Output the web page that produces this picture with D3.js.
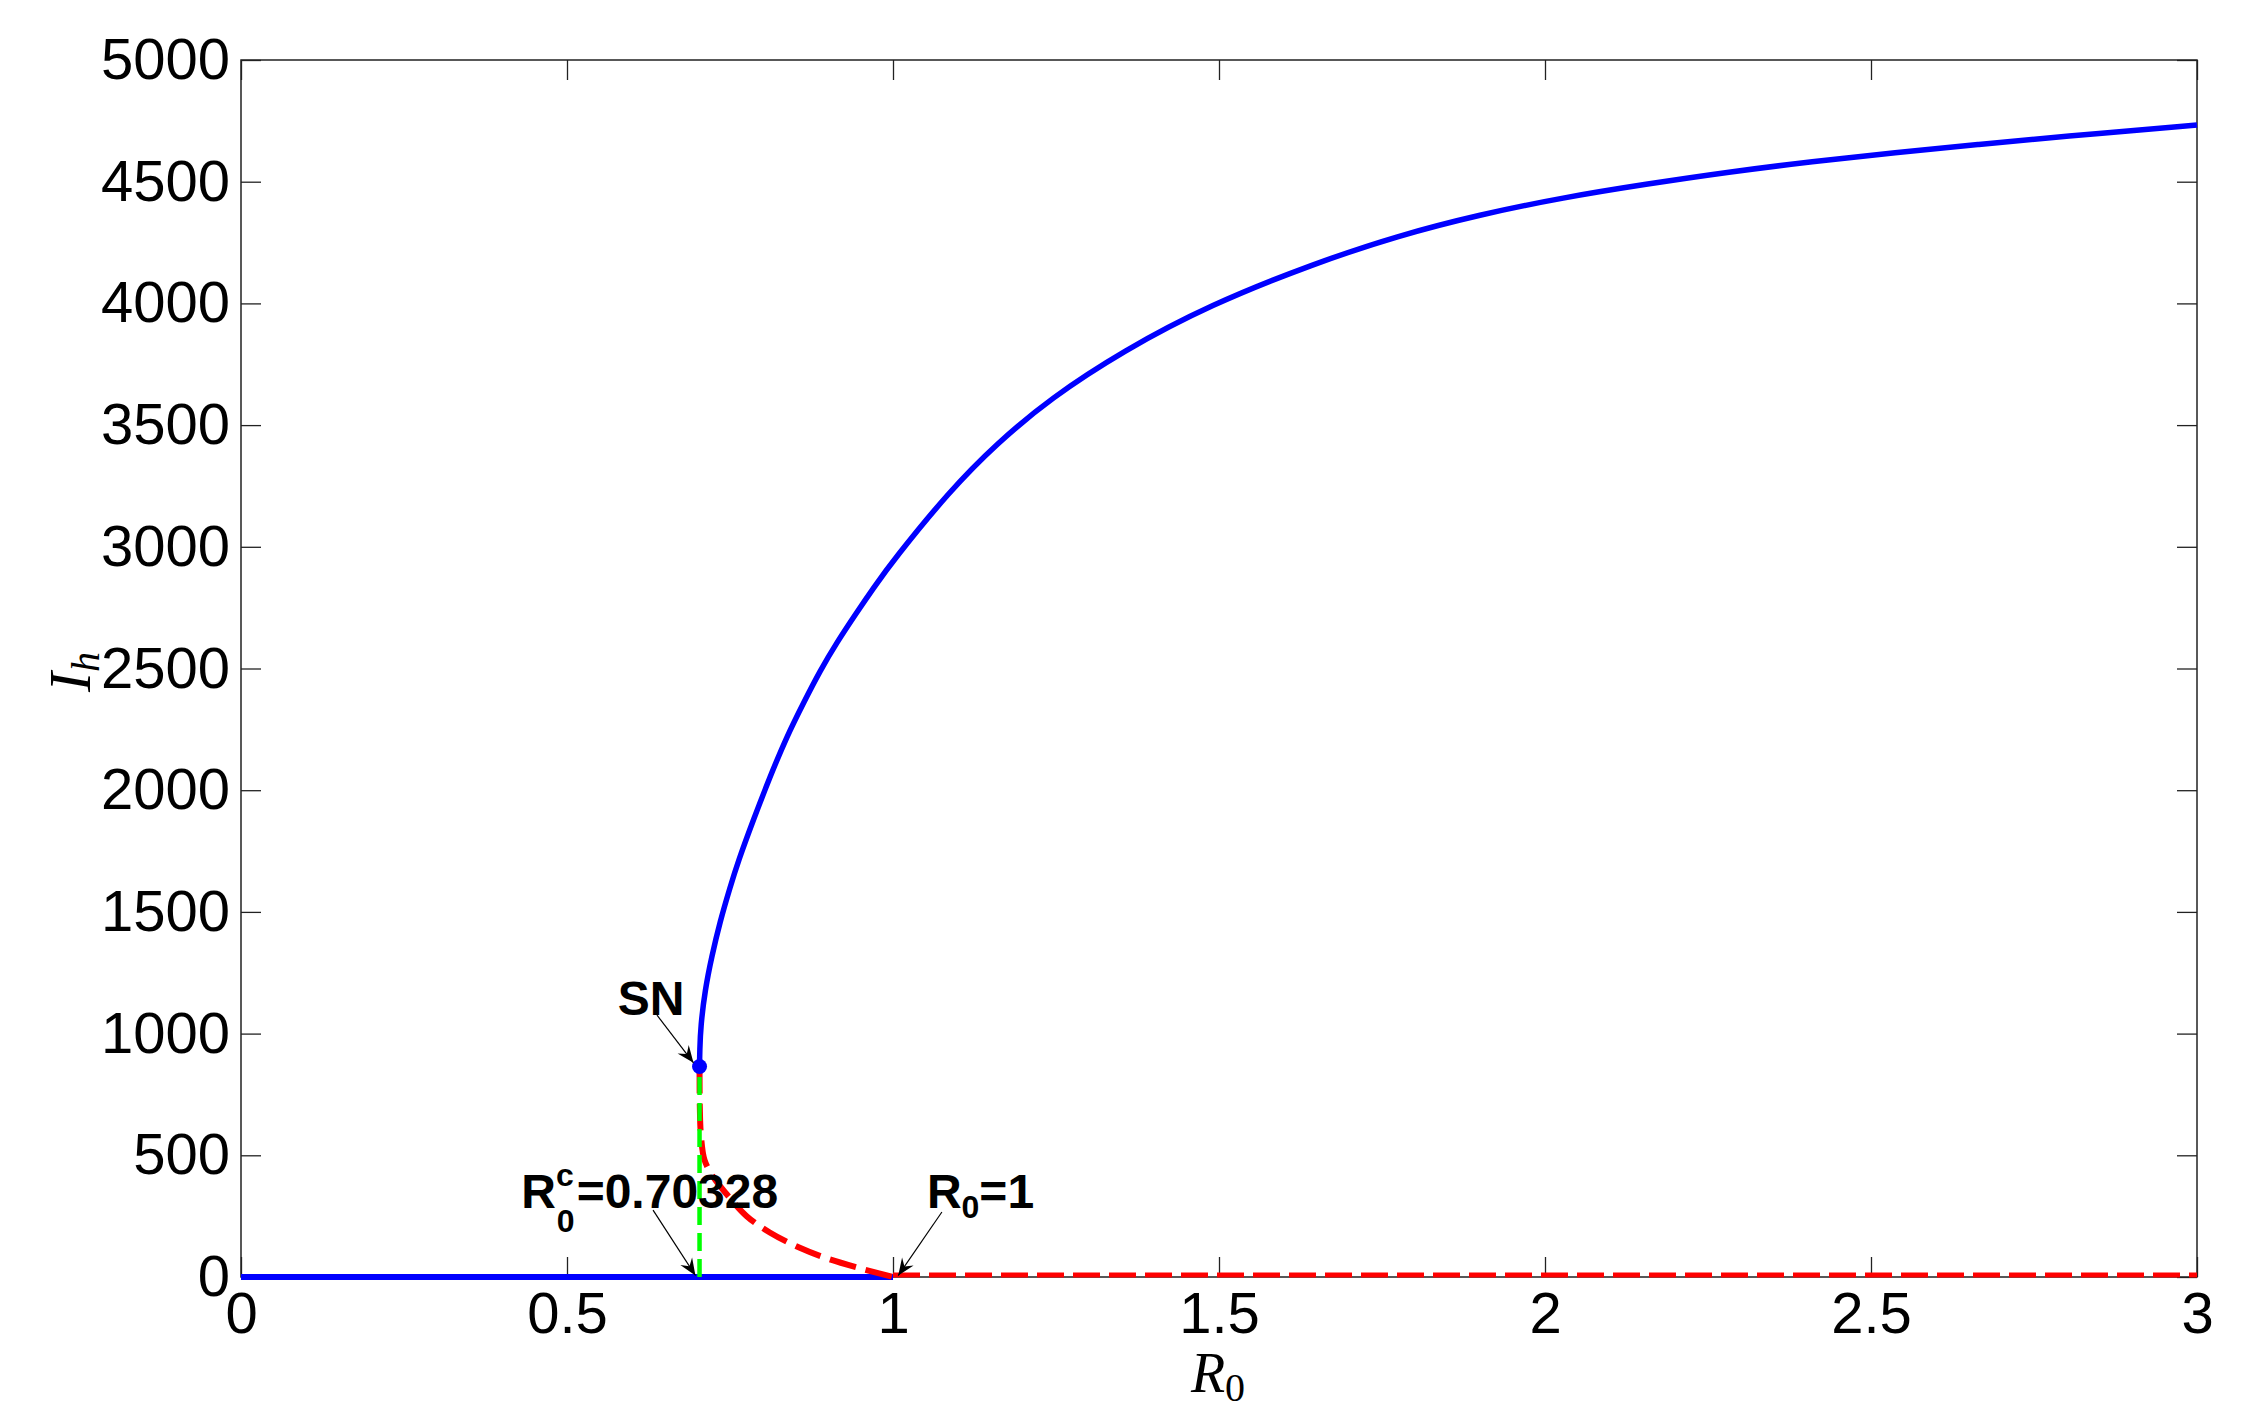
<!DOCTYPE html>
<html>
<head>
<meta charset="utf-8">
<script src="https://d3js.org/d3.v7.min.js"></script>
<style>
  body { margin: 0; background: #fff; }
  text { font-family: "Liberation Sans", Arial, sans-serif; }
</style>
</head>
<body>
<script>
// stable endemic branch (blue, solid) starting at the saddle-node point
const upperR = [0.70328, 0.7036, 0.7050, 0.7117, 0.7219, 0.7347, 0.750, 0.7628, 0.7858, 0.8113, 0.837, 0.8624, 0.888, 0.9136, 0.9443, 0.9698, 1.0005, 1.087, 1.159, 1.241, 1.353, 1.486, 1.647, 1.774, 1.900, 2.028, 2.155, 2.282, 2.410, 2.537, 2.664, 2.790, 3.0];
const upperI = [865, 930, 1030, 1179, 1316, 1460, 1600, 1710, 1878, 2055, 2220, 2357, 2490, 2606, 2730, 2830, 2945, 3230, 3424, 3609, 3805, 3994, 4165, 4278, 4365, 4435, 4490, 4540, 4583, 4620, 4653, 4685, 4733];
// unstable endemic branch (red, dashed) from SN down to R0 = 1
const lowerR = [0.70328, 0.7037, 0.7055, 0.711, 0.7245, 0.745, 0.7756, 0.811, 0.857, 0.898, 0.949, 1.0];
const lowerI = [865, 700, 580, 480, 410, 340, 250, 183, 120, 77, 36, 0];
// disease free equilibrium: stable below 1, unstable above
const dfeStableR = [0, 1];
const dfeUnstableR = [1, 3];
const snPoint = [0.70328, 865];
const xTicks = [0, 0.5, 1, 1.5, 2, 2.5, 3];
const yTicks = [0, 500, 1000, 1500, 2000, 2500, 3000, 3500, 4000, 4500, 5000];

const W = 2266, H = 1426;
const m = {left: 241, top: 60, right: 69, bottom: 149};
const w = W - m.left - m.right, h = H - m.top - m.bottom;

const x = d3.scaleLinear().domain([0, 3]).range([0, w]);
const y = d3.scaleLinear().domain([0, 5000]).range([h, 0]);

const svg = d3.select("body").append("svg")
    .attr("width", W).attr("height", H);

const defs = svg.append("defs");
defs.append("marker")
    .attr("id", "arr")
    .attr("viewBox", "-18 -8 20 16")
    .attr("refX", 0).attr("refY", 0)
    .attr("markerWidth", 20).attr("markerHeight", 16)
    .attr("markerUnits", "userSpaceOnUse")
    .attr("orient", "auto")
    .append("path")
    .attr("d", "M0,0 L-17,-7 L-11,0 L-17,7 Z")
    .attr("fill", "#000");

const g = svg.append("g").attr("transform", `translate(${m.left},${m.top})`);

// axes, ticks inside on all four sides
const fmt = d => d3.format("")(d);
const ax = g.append("g").attr("transform", `translate(0,${h})`)
    .call(d3.axisBottom(x).tickValues(xTicks).tickSize(-20).tickPadding(15).tickFormat(fmt));
const axT = g.append("g")
    .call(d3.axisTop(x).tickValues(xTicks).tickSize(-20).tickFormat(""));
const ay = g.append("g")
    .call(d3.axisLeft(y).tickValues(yTicks).tickSize(-20).tickPadding(11).tickFormat(fmt));
const ayR = g.append("g").attr("transform", `translate(${w},0)`)
    .call(d3.axisRight(y).tickValues(yTicks).tickSize(-20).tickFormat(""));

[ax, axT, ay, ayR].forEach(a => {
  a.select(".domain").remove();
  a.selectAll(".tick line").attr("stroke", "#222").attr("stroke-width", 1.3);
  a.selectAll("text").attr("font-size", 58).attr("fill", "#000")
    .style("font-family", "'Liberation Sans', Arial, sans-serif");
});
g.append("rect").attr("width", w).attr("height", h)
    .attr("fill", "none").attr("stroke", "#222").attr("stroke-width", 1.5);

const line = d3.line().x(d => x(d[0])).y(d => y(d[1])).curve(d3.curveMonotoneX);
const smooth = d3.line().x(d => x(d[0])).y(d => y(d[1])).curve(d3.curveCatmullRom.alpha(0.5));
const basis = d3.line().x(d => x(d[0])).y(d => y(d[1])).curve(d3.curveBasis);

// DFE branches
g.append("path").datum(dfeStableR.map(r => [r, 0]))
    .attr("d", line).attr("fill", "none").attr("stroke", "#0000ff").attr("stroke-width", 6);
g.append("path").datum(dfeUnstableR.map(r => [r, 0]))
    .attr("d", line).attr("fill", "none").attr("stroke", "#ff0000").attr("stroke-width", 5)
    .attr("stroke-dasharray", "27 9").attr("transform", "translate(0,-2)");

// unstable endemic branch
g.append("path").datum(lowerR.map((r, i) => [r, lowerI[i]]))
    .attr("d", smooth).attr("fill", "none").attr("stroke", "#ff0000").attr("stroke-width", 6)
    .attr("stroke-dasharray", "27 10");

// critical R0 marker
g.append("path").datum([[snPoint[0], 0], [snPoint[0], snPoint[1]]])
    .attr("d", d3.line().x(d => x(d[0])).y(d => y(d[1])))
    .attr("fill", "none").attr("stroke", "#00ff00").attr("stroke-width", 4.5)
    .attr("stroke-dasharray", "18 8");

// stable endemic branch
g.append("path").datum(upperR.map((r, i) => [r, upperI[i]]))
    .attr("d", basis).attr("fill", "none").attr("stroke", "#0000ff").attr("stroke-width", 5.5)
    .attr("stroke-linejoin", "round");

g.append("circle").attr("cx", x(snPoint[0])).attr("cy", y(snPoint[1]))
    .attr("r", 7.5).attr("fill", "#0000ff");

// annotations: arrows (data coordinates)
const arrows = [
  [[0.638, 1076], [0.694, 880]],
  [[0.632, 275], [0.697, 6]],
  [[1.075, 267], [1.008, 6]]
];
arrows.forEach(a => {
  g.append("line")
    .attr("x1", x(a[0][0])).attr("y1", y(a[0][1]))
    .attr("x2", x(a[1][0])).attr("y2", y(a[1][1]))
    .attr("stroke", "#000").attr("stroke-width", 1.2)
    .attr("marker-end", "url(#arr)");
});

function lbl(px, py) {
  return g.append("text").attr("x", px).attr("y", py)
    .attr("font-weight", "bold").attr("font-size", 48).attr("fill", "#000");
}
lbl(x(0.578), y(1076)).text("SN");

const t1 = lbl(x(0.430), y(283));
t1.append("tspan").text("R");
t1.append("tspan").attr("font-size", 32).attr("dy", -22).text("c");
t1.append("tspan").attr("font-size", 32).attr("dx", -17).attr("dy", 46).text("0");
t1.append("tspan").attr("dx", 2).attr("dy", -24).text("=0.70328");

const t2 = lbl(x(1.052), y(283));
t2.append("tspan").text("R");
t2.append("tspan").attr("font-size", 32).attr("dy", 10).text("0");
t2.append("tspan").attr("dy", -10).text("=1");

// axis labels
const xl = svg.append("text").attr("x", 1218).attr("y", 1392)
    .attr("text-anchor", "middle")
    .style("font-family", "'Liberation Serif', 'Times New Roman', serif")
    .attr("font-size", 56).attr("fill", "#000");
xl.append("tspan").attr("font-style", "italic").text("R");
xl.append("tspan").attr("font-size", 40).attr("dy", 9).text("0");

const yl = svg.append("text").attr("transform", "translate(90,672) rotate(-90)")
    .attr("text-anchor", "middle")
    .style("font-family", "'Liberation Serif', 'Times New Roman', serif")
    .attr("font-size", 60).attr("fill", "#000");
yl.append("tspan").attr("font-style", "italic").text("I");
yl.append("tspan").attr("font-style", "italic").attr("font-size", 40).attr("dy", 9).text("h");
</script>
</body>
</html>
